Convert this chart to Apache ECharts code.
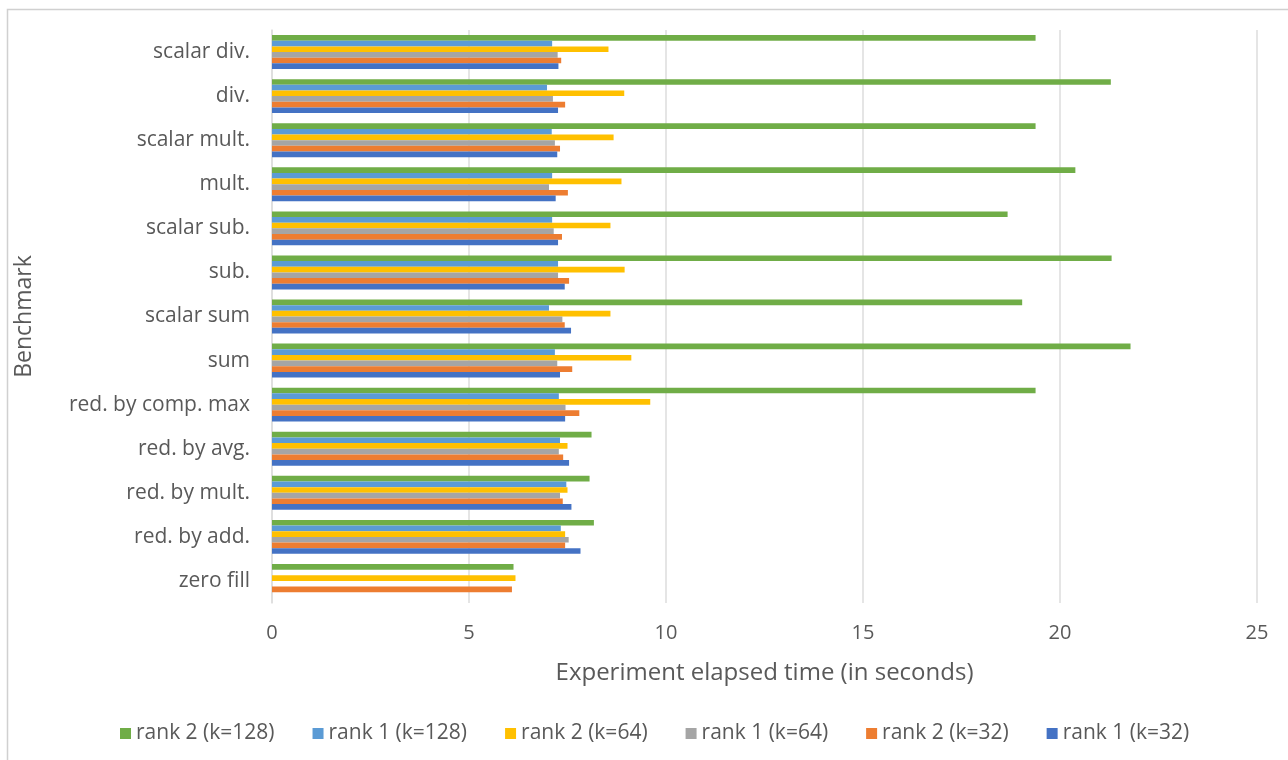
<!DOCTYPE html>
<html>
<head>
<meta charset="utf-8">
<title>Benchmark elapsed time</title>
<script src="https://cdn.jsdelivr.net/npm/echarts@6/dist/echarts.min.js"></script>
<style>
  html, body { margin: 0; padding: 0; background: #ffffff; }
  #chart { width: 1288px; height: 760px; }
</style>
</head>
<body>
<div id="chart"></div>
<script>
// Benchmarks, listed top to bottom
const benchmarks = [
  'scalar div.', 'div.', 'scalar mult.', 'mult.', 'scalar sub.', 'sub.',
  'scalar sum', 'sum', 'red. by comp. max', 'red. by avg.', 'red. by mult.',
  'red. by add.', 'zero fill'
];

// Elapsed time in seconds per benchmark (same order as benchmarks)
const rank2k128 = [19.38, 21.29, 19.38, 20.39, 18.67, 21.31, 19.04, 21.79, 19.38, 8.11, 8.06, 8.17, 6.13];
const rank1k128 = [7.11, 6.98, 7.10, 7.11, 7.11, 7.26, 7.03, 7.18, 7.28, 7.31, 7.47, 7.33, null];
const rank2k64  = [8.54, 8.94, 8.67, 8.87, 8.59, 8.95, 8.59, 9.12, 9.60, 7.50, 7.50, 7.44, 6.18];
const rank1k64  = [7.25, 7.13, 7.18, 7.03, 7.15, 7.26, 7.37, 7.24, 7.45, 7.28, 7.31, 7.53, null];
const rank2k32  = [7.34, 7.44, 7.31, 7.51, 7.36, 7.54, 7.43, 7.62, 7.80, 7.39, 7.38, 7.44, 6.09];
const rank1k32  = [7.27, 7.26, 7.24, 7.20, 7.26, 7.43, 7.59, 7.31, 7.44, 7.54, 7.60, 7.83, null];

const xTicks = { min: 0, max: 25, step: 5 };

const seriesDefs = [
  { name: 'rank 2 (k=128)', data: rank2k128, color: '#70AD47' },
  { name: 'rank 1 (k=128)', data: rank1k128, color: '#5B9BD5' },
  { name: 'rank 2 (k=64)',  data: rank2k64,  color: '#FFC000' },
  { name: 'rank 1 (k=64)',  data: rank1k64,  color: '#A5A5A5' },
  { name: 'rank 2 (k=32)',  data: rank2k32,  color: '#ED7D31' },
  { name: 'rank 1 (k=32)',  data: rank1k32,  color: '#4472C4' }
];

const textColor = '#595959';
const fontFamily = '"Open Sans", "DejaVu Sans", sans-serif';

const chart = echarts.init(document.getElementById('chart'), null, { renderer: 'canvas' });

chart.setOption({
  backgroundColor: '#ffffff',
  animation: false,
  textStyle: { fontFamily: fontFamily, color: textColor },
  graphic: [{
    type: 'rect',
    shape: { x: 7.5, y: 9.5, width: 1400, height: 900 },
    style: { fill: 'none', stroke: '#d0d0d0', lineWidth: 1.5 },
    silent: true,
    z: -10
  }],
  grid: { left: 272, right: 31, top: 30, bottom: 157, containLabel: false },
  legend: {
    data: seriesDefs.map(s => s.name),
    bottom: 11,
    left: 115,
    icon: 'rect',
    itemWidth: 11,
    itemHeight: 11,
    itemGap: 38,
    textStyle: { fontSize: 21, color: textColor, fontFamily: fontFamily }
  },
  xAxis: {
    type: 'value',
    min: xTicks.min,
    max: xTicks.max,
    interval: xTicks.step,
    name: 'Experiment elapsed time (in seconds)',
    nameLocation: 'middle',
    nameGap: 58,
    nameTextStyle: { fontSize: 24, color: textColor, fontFamily: fontFamily },
    axisLine: { show: false },
    axisTick: { show: false },
    axisLabel: { fontSize: 20, color: textColor, margin: 20, fontFamily: fontFamily },
    splitLine: { show: true, lineStyle: { color: '#dcdcdc', width: 1.5 } }
  },
  yAxis: {
    type: 'category',
    data: benchmarks,
    inverse: true,
    name: 'Benchmark',
    nameLocation: 'middle',
    nameGap: 236,
    nameTextStyle: { fontSize: 23, color: textColor, fontFamily: fontFamily },
    axisLine: { show: true, lineStyle: { color: '#dcdcdc', width: 1.5 } },
    axisTick: { show: false },
    axisLabel: { fontSize: 21, color: textColor, margin: 22, fontFamily: fontFamily },
    splitLine: { show: false }
  },
  series: seriesDefs.map(s => ({
    type: 'bar',
    name: s.name,
    data: s.data,
    barGap: '0%',
    barCategoryGap: '23%',
    itemStyle: { color: s.color },
    emphasis: { disabled: true }
  }))
});
</script>
</body>
</html>
